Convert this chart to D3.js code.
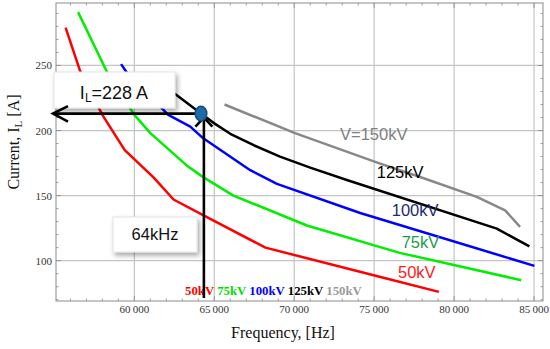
<!DOCTYPE html>
<html><head><meta charset="utf-8">
<script src="https://cdn.jsdelivr.net/npm/d3@7"></script>
<style>body{margin:0;background:#fff}svg{display:block}</style>
</head><body><svg id="c" width="550" height="349"></svg>
<script>
// ---- data ----
const freq50  = [55700,56600,58000,59400,61200,62450,64300,68200,75400,79050];
const cur50   = [279,246,212,185,164,147,135,110,87.5,76];
const freq75  = [56480,58290,60000,61000,63290,64330,66200,70790,76600,84200];
const cur75   = [291,245,212,198,173,164,150,127,106,85];
const freq100 = [59170,59560,62125,63500,64310,67250,68920,74125,85020];
const cur100  = [251,244,212,203,194,169.5,159,136.6,96];
const freq125 = [61600,64170,65000,66000,67500,69110,71000,73290,82670,84710];
const cur125  = [237,213,205.5,197.5,188.5,180,171.5,162,124.6,111];
const freq150 = [65640,70050,75375,77875,81420,83190,84125];
const cur150  = [220,198,174.6,164.3,149,138.7,126];
const seriesNames = ["50kV","75kV","100kV","125kV","150kV"];
const curveLabels = ["50kV","75kV","100kV","125kV","V=150kV"];
const labelF = [76491,76722,76097,75159,72863];
const labelI = [86.7,110,134.3,163.5,192.7];
const xTicks = [60000,65000,70000,75000,80000,85000];
const yTicks = [100,150,200,250];
const markerF = 64170, markerI = 213, vLineF = 64350, vLineBottomI = 71.3;
const annoCurrent = "228 A", annoFreq = "64kHz";

const lineColors = ["#ff0000","#00ee00","#0000ff","#000000","#888888"];
const labelColors = ["#ff1a1a","#1a9e4a","#1c2a78","#000000","#808080"];
const legendColors = ["#ff0000","#00dd00","#0000ff","#000000","#999999"];

const svg = d3.select("#c");
const x = d3.scaleLinear().domain([55100,85560]).range([56,543]);
const y = d3.scaleLinear().domain([69,298]).range([301,3]);
const [x0,x1] = x.range(), [y0,y1] = y.range();

const defs = svg.append("defs");
const f = defs.append("filter").attr("id","sh").attr("x","-20%").attr("y","-30%").attr("width","150%").attr("height","180%");
f.append("feDropShadow").attr("dx",2).attr("dy",3).attr("stdDeviation",2.5).attr("flood-color","#000").attr("flood-opacity",0.35);

// grid
const g = svg.append("g");
g.selectAll(".gx").data(xTicks).join("line").attr("x1",d=>x(d)).attr("x2",d=>x(d)).attr("y1",y0).attr("y2",y1).attr("stroke","#c4c4c4").attr("stroke-width",1.2);
g.selectAll(".gy").data(yTicks).join("line").attr("y1",d=>y(d)).attr("y2",d=>y(d)).attr("x1",x0).attr("x2",x1).attr("stroke","#c4c4c4").attr("stroke-width",1.2);

// minor / major ticks on frame
const minorX = d3.range(56000,85600,1000);
const minorY = d3.range(70,298,10);
const tk = svg.append("g").attr("stroke","#888").attr("stroke-width",0.8);
minorX.forEach(v=>{const len = v%5000===0?5:2.5;
  tk.append("line").attr("x1",x(v)).attr("x2",x(v)).attr("y1",y0).attr("y2",y0-len);
  tk.append("line").attr("x1",x(v)).attr("x2",x(v)).attr("y1",y1).attr("y2",y1+len);});
minorY.forEach(v=>{const len = v%50===0?5:2.5;
  tk.append("line").attr("y1",y(v)).attr("y2",y(v)).attr("x1",x0).attr("x2",x0+len);
  tk.append("line").attr("y1",y(v)).attr("y2",y(v)).attr("x1",x1).attr("x2",x1-len);});
svg.append("rect").attr("x",x0).attr("y",y1).attr("width",x1-x0).attr("height",y0-y1).attr("fill","none").attr("stroke","#8c8c8c").attr("stroke-width",1);

// tick labels
const fmt = d=>String(d).replace(/(\d{2})(\d{3})$/,"$1\u2009$2");
svg.selectAll(".xl").data(xTicks).join("text").attr("x",d=>x(d)).attr("y",313).attr("text-anchor","middle")
  .attr("font-family","Liberation Serif, Times New Roman, serif").attr("font-size",11).attr("fill","#333").text(fmt);
svg.selectAll(".yl").data(yTicks).join("text").attr("x",52).attr("y",d=>y(d)+4).attr("text-anchor","end")
  .attr("font-family","Liberation Serif, Times New Roman, serif").attr("font-size",11).attr("fill","#333").text(d=>d);

// axis titles
svg.append("text").attr("x",283).attr("y",338).attr("text-anchor","middle").attr("font-family","Liberation Serif, Times New Roman, serif").attr("font-size",16).attr("fill","#111").text("Frequency, [Hz]");
const yt = svg.append("text").attr("transform","translate(19,142) rotate(-90)").attr("text-anchor","middle").attr("font-family","Liberation Serif, Times New Roman, serif").attr("font-size",16).attr("fill","#111");
yt.append("tspan").text("Current, I");
yt.append("tspan").attr("font-size",11).attr("dy",3).text("L");
yt.append("tspan").attr("dy",-3).text(" [A]");

// curves
const series = [[freq50,cur50],[freq75,cur75],[freq100,cur100],[freq125,cur125],[freq150,cur150]];
const line = d3.line().x(d=>x(d[0])).y(d=>y(d[1]));
series.forEach((s,i)=>{
  svg.append("path").datum(s[0].map((v,j)=>[v,s[1][j]])).attr("d",line).attr("fill","none")
    .attr("stroke",lineColors[i]).attr("stroke-width",2.5).attr("stroke-linejoin","round");
});

// curve labels
curveLabels.forEach((t,i)=>{
  svg.append("text").attr("x",x(labelF[i])).attr("y",y(labelI[i])).attr("font-family","Liberation Sans, Arial, sans-serif")
    .attr("font-size",16.5).attr("fill",labelColors[i]).text(t);
});

// bottom legend
const lg = svg.append("text").attr("x",185).attr("y",295).attr("font-family","Liberation Serif, Times New Roman, serif").attr("font-weight","bold").attr("font-size",12.8).attr("xml:space","preserve");
seriesNames.forEach((t,i)=>lg.append("tspan").attr("fill",legendColors[i]).text(t+(i<seriesNames.length-1?" ":"")));

// annotation boxes
svg.append("rect").attr("x",54).attr("y",72).attr("width",121).attr("height",36).attr("fill","#fff").attr("stroke","#e4e4e4").attr("filter","url(#sh)");
const t1 = svg.append("text").attr("x",114).attr("y",98.5).attr("text-anchor","middle").attr("font-family","Liberation Sans, Arial, sans-serif").attr("font-size",18).attr("fill","#111");
t1.append("tspan").text("I");
t1.append("tspan").attr("font-size",12).attr("dy",3).text("L");
t1.append("tspan").attr("dy",-3).text("=" + annoCurrent);

svg.append("rect").attr("x",113).attr("y",217).attr("width",84).attr("height",35).attr("fill","#fff").attr("stroke","#e4e4e4").attr("filter","url(#sh)");
svg.append("text").attr("x",155).attr("y",240).attr("text-anchor","middle").attr("font-family","Liberation Sans, Arial, sans-serif").attr("font-size",16.5).attr("fill","#111").text(annoFreq);

// arrows
const ay = y(markerI), ax = x(vLineF), axl = x0-3;
const ar = svg.append("g").attr("stroke","#000").attr("stroke-width",2.6).attr("fill","none").attr("stroke-linecap","butt");
ar.append("line").attr("x1",x(markerF)).attr("x2",axl).attr("y1",ay).attr("y2",ay);
ar.append("polyline").attr("points",`${axl+15},${ay-7.5} ${axl},${ay} ${axl+15},${ay+8}`);
ar.append("line").attr("x1",ax).attr("x2",ax).attr("y1",y(vLineBottomI)).attr("y2",ay+4);
ar.append("polyline").attr("points",`${ax-8.5},${ay+13} ${ax},${ay+4} ${ax+8.5},${ay+13}`);

// marker dot
svg.append("ellipse").attr("cx",x(markerF)).attr("cy",y(markerI)).attr("rx",5.8).attr("ry",7.3).attr("fill","#1f6aa8").attr("stroke","#154d7e").attr("stroke-width",1.5);
</script></body></html>
